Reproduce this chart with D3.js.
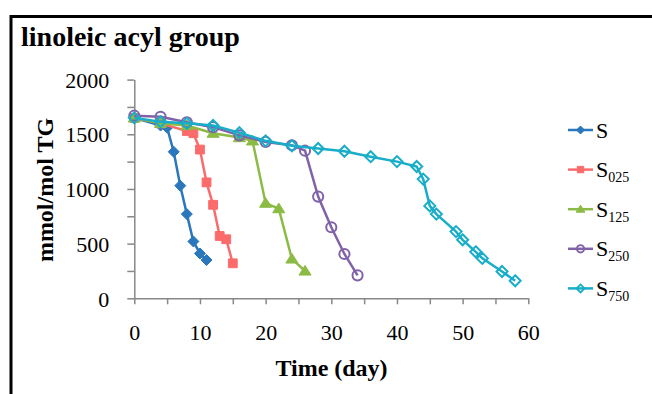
<!DOCTYPE html>
<html>
<head>
<meta charset="utf-8">
<script src="https://cdn.jsdelivr.net/npm/d3@7"></script>
<style>
  body { margin: 0; background: #fff; }
  text { font-family: "Liberation Serif", "DejaVu Serif", serif; fill: #000; }
</style>
</head>
<body>
<div id="chart"></div>
<script>
// Data (day, mmol/mol TG)
const daysS    = [0, 4, 5, 6, 7, 8, 9, 10, 11];
const valsS    = [1650, 1580, 1560, 1340, 1030, 770, 520, 410, 350];
const daysS025 = [0, 4, 8, 9, 10, 11, 12, 13, 14, 15];
const valsS025 = [1650, 1600, 1530, 1510, 1360, 1060, 855, 570, 540, 320];
const daysS125 = [0, 4, 8, 12, 16, 18, 20, 22, 24, 26];
const valsS125 = [1650, 1600, 1580, 1510, 1470, 1440, 870, 820, 360, 250];
const daysS250 = [0, 4, 8, 12, 16, 20, 24, 26, 28, 30, 32, 34];
const valsS250 = [1670, 1660, 1610, 1565, 1490, 1430, 1400, 1350, 930, 650, 405, 210];
const daysS750 = [0, 4, 8, 12, 16, 20, 24, 28, 32, 36, 40, 43, 44, 45, 46, 49, 50, 52, 53, 56, 58];
const valsS750 = [1650, 1615, 1600, 1580, 1515, 1440, 1395, 1370, 1345, 1295, 1250, 1205, 1090, 845, 770, 610, 535, 425, 365, 245, 160];

const seriesNames = ["S", "S025", "S125", "S250", "S750"];
const seriesSub   = ["", "025", "125", "250", "750"];
const xTicks = [0, 5, 10, 15, 20, 25, 30, 35, 40, 45, 50, 55, 60];
const yTicks = [0, 250, 500, 750, 1000, 1250, 1500, 1750, 2000];

const serif = '"Liberation Serif", "DejaVu Serif", serif';
const W = 652, H = 394;
const svg = d3.select("#chart").append("svg")
  .attr("width", W).attr("height", H);

// outer frame (runs off the right and bottom edges)
svg.append("rect")
  .attr("x", 11).attr("y", 16.5)
  .attr("width", W + 20).attr("height", H + 20)
  .attr("fill", "none").attr("stroke", "#000").attr("stroke-width", 3);

svg.append("text")
  .attr("x", 21).attr("y", 46)
  .style("font-family", serif)
  .attr("font-size", 28).attr("font-weight", "bold")
  .text("linoleic acyl group");

const x = d3.scaleLinear().domain([0, 60]).range([134.3, 528.3]);
const y = d3.scaleLinear().domain([0, 2000]).range([298.3, 79.6]);

// axes
const xAxis = svg.append("g")
  .attr("transform", `translate(0,${y(0)})`)
  .call(d3.axisBottom(x).tickValues(xTicks).tickSizeInner(6).tickSizeOuter(0)
    .tickFormat(d => d % 10 === 0 ? d : ""));
xAxis.select(".domain").attr("stroke", "#888").attr("stroke-width", 1.5);
xAxis.selectAll(".tick line").attr("stroke", "#888").attr("stroke-width", 1.5);
xAxis.selectAll(".tick text")
  .attr("y", 42).attr("dy", 0)
  .style("font-family", serif).style("font-size", "22px").attr("fill", "#000");

const yAxis = svg.append("g")
  .attr("transform", `translate(${x(0)},0)`)
  .call(d3.axisLeft(y).tickValues(yTicks).tickSizeInner(7).tickSizeOuter(0)
    .tickFormat(d => d % 500 === 0 ? d : ""));
yAxis.select(".domain").attr("stroke", "#888").attr("stroke-width", 1.5);
yAxis.selectAll(".tick line").attr("stroke", "#888").attr("stroke-width", 1.5);
yAxis.selectAll(".tick text")
  .attr("x", -25).attr("dy", "0.35em")
  .style("font-family", serif).style("font-size", "22px").attr("fill", "#000");

// axis titles
svg.append("text")
  .attr("x", 331.5).attr("y", 376)
  .attr("text-anchor", "middle")
  .style("font-family", serif)
  .attr("font-size", 24).attr("font-weight", "bold")
  .text("Time (day)");

svg.append("text")
  .attr("transform", "translate(53,190) rotate(-90)")
  .attr("text-anchor", "middle")
  .style("font-family", serif)
  .attr("font-size", 24).attr("font-weight", "bold")
  .text("mmol/mol TG");

// series styles
const styles = [
  { color: "#2a77bb", shape: "diamond",  fill: true },
  { color: "#fc6b6b", shape: "square",   fill: true },
  { color: "#8cbb45", shape: "triangle", fill: true },
  { color: "#8062a8", shape: "circle",   fill: false },
  { color: "#18adc8", shape: "diamond",  fill: false }
];
const allDays = [daysS, daysS025, daysS125, daysS250, daysS750];
const allVals = [valsS, valsS025, valsS125, valsS250, valsS750];

function markerPath(shape, s) {
  if (shape === "diamond") return `M0,${-s}L${s},0L0,${s}L${-s},0Z`;
  if (shape === "square") return `M${-s * 0.8},${-s * 0.8}h${s * 1.6}v${s * 1.6}h${-s * 1.6}Z`;
  if (shape === "triangle") return `M0,${-s}L${s * 1.1},${s * 0.75}L${-s * 1.1},${s * 0.75}Z`;
  return d3.symbol(d3.symbolCircle, Math.PI * s * s * 0.85)();
}

const line = d3.line().x(d => x(d[0])).y(d => y(d[1]));

seriesNames.forEach((name, i) => {
  const st = styles[i];
  const pts = allDays[i].map((d, j) => [d, allVals[i][j]]);
  const g = svg.append("g");
  g.append("path")
    .datum(pts)
    .attr("d", line)
    .attr("fill", "none")
    .attr("stroke", st.color)
    .attr("stroke-width", 2.5);
  g.selectAll("path.m")
    .data(pts)
    .enter().append("path")
    .attr("class", "m")
    .attr("transform", d => `translate(${x(d[0])},${y(d[1])})`)
    .attr("d", markerPath(st.shape, 5.5))
    .attr("fill", st.fill ? st.color : "#fff")
    .attr("fill-opacity", st.fill ? 1 : 0)
    .attr("stroke", st.color)
    .attr("stroke-width", st.fill ? 1 : 2);
});

// legend
const legend = svg.selectAll(".legend")
  .data(seriesNames)
  .enter().append("g")
  .attr("class", "legend")
  .attr("transform", (d, i) => `translate(0,${130 + i * 39.6})`);

legend.append("line")
  .attr("x1", 568).attr("x2", 593)
  .attr("stroke", (d, i) => styles[i].color)
  .attr("stroke-width", 2.5);

legend.append("path")
  .attr("transform", "translate(580.5,0)")
  .attr("d", (d, i) => markerPath(styles[i].shape, 4))
  .attr("fill", (d, i) => styles[i].fill ? styles[i].color : "none")
  .attr("stroke", (d, i) => styles[i].color)
  .attr("stroke-width", (d, i) => styles[i].fill ? 1 : 1.8);

const lt = legend.append("text")
  .attr("x", 596).attr("y", 7.5)
  .style("font-family", serif)
  .attr("font-size", 22);
lt.append("tspan").text("S");
lt.append("tspan")
  .attr("font-size", 14).attr("dy", 5)
  .text((d, i) => seriesSub[i]);
</script>
</body>
</html>
